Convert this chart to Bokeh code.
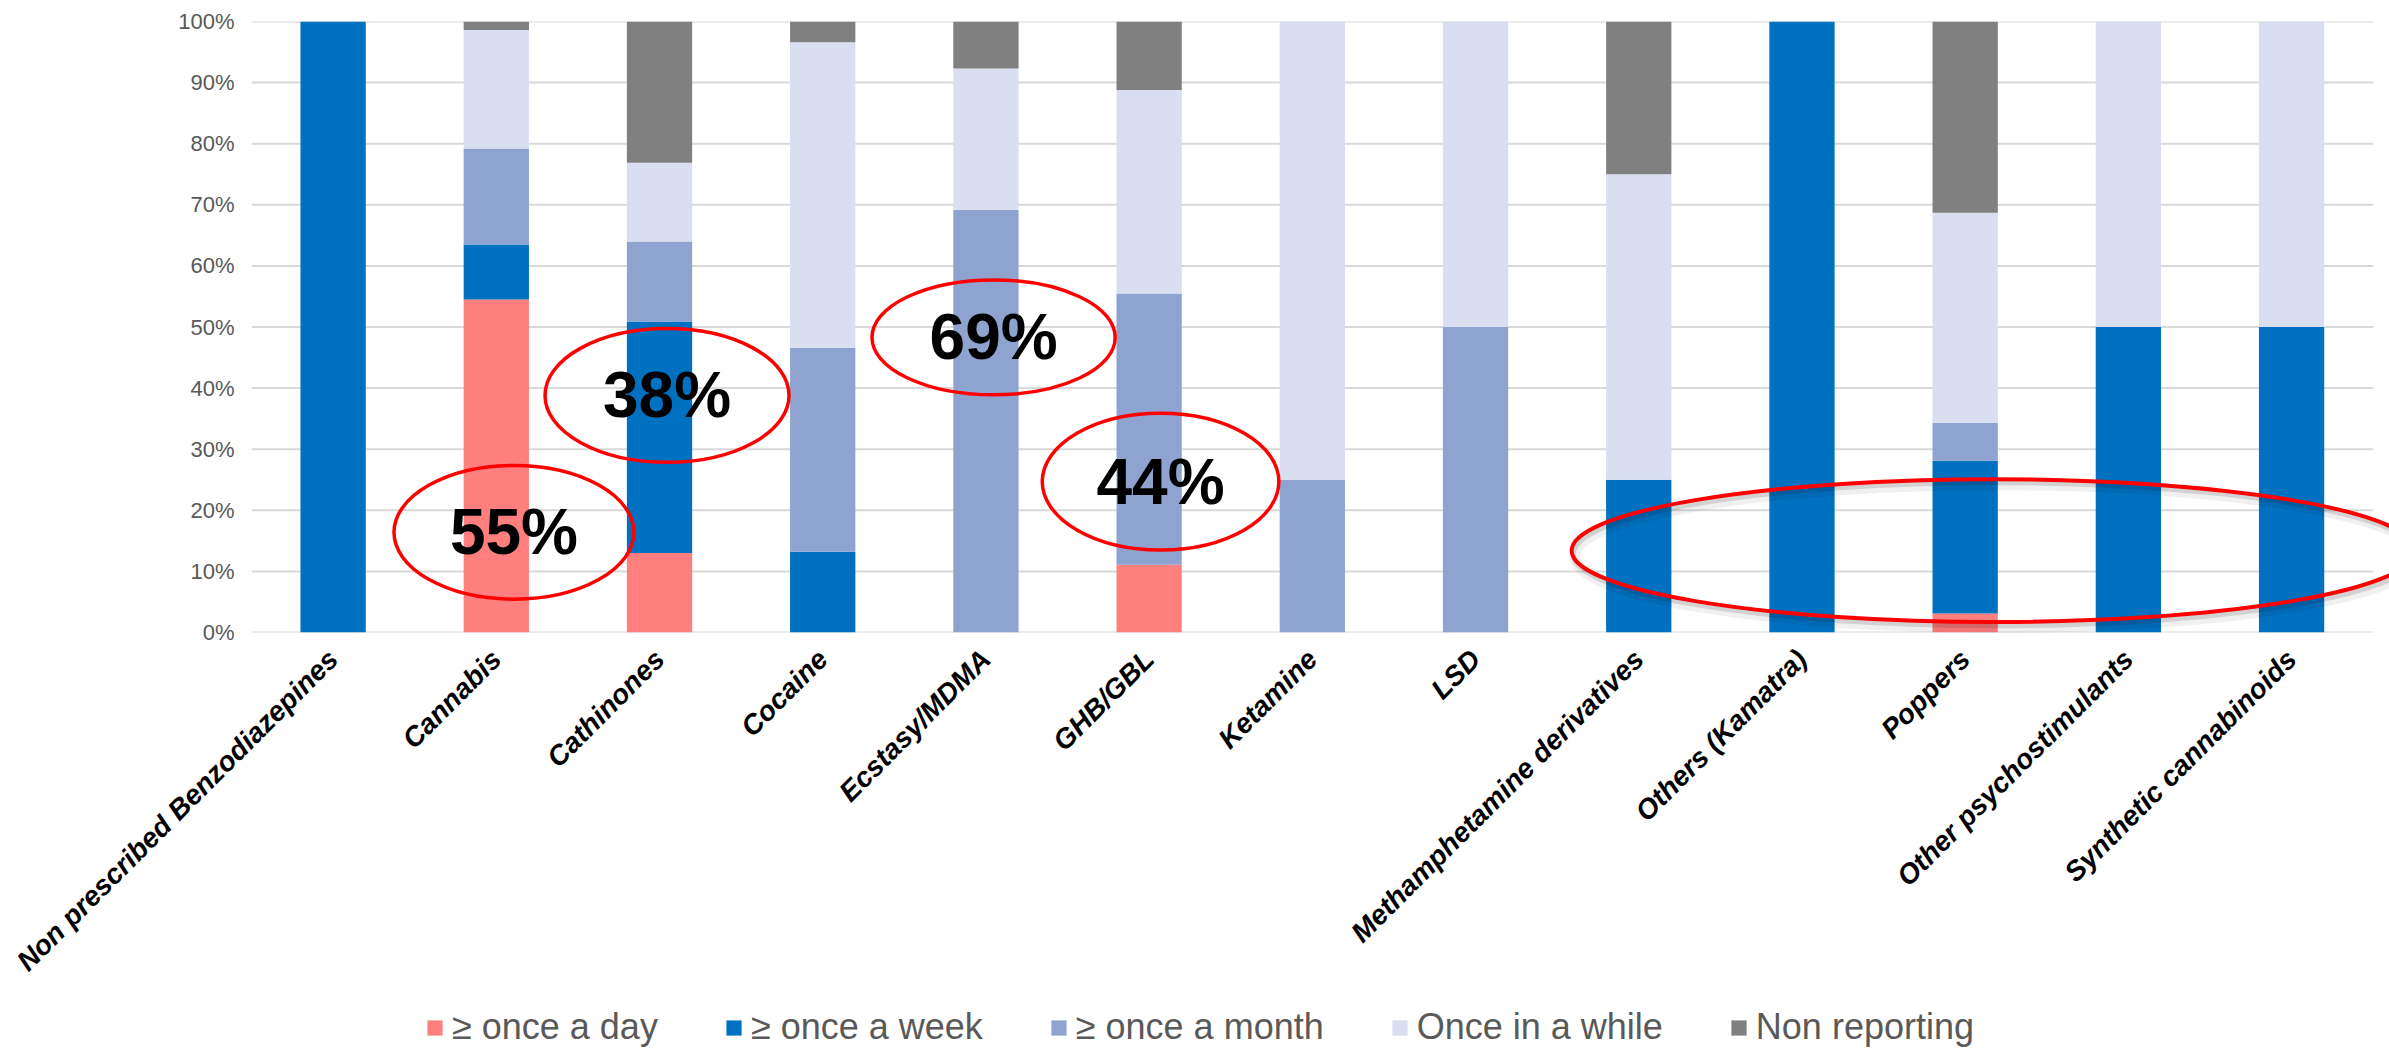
import math
from bokeh.plotting import figure
from bokeh.layouts import column
from bokeh.models import (ColumnDataSource, Range1d, FixedTicker, PrintfTickFormatter,
                          CustomJSTickFormatter, Legend, LegendItem)
from bokeh.core.properties import value
from bokeh.embed import file_html
from bokeh.resources import INLINE

# ---------------- data ----------------
categories = ["Non prescribed Benzodiazepines", "Cannabis", "Cathinones", "Cocaine",
              "Ecstasy/MDMA", "GHB/GBL", "Ketamine", "LSD", "Methamphetamine derivatives",
              "Others (Kamatra)", "Poppers", "Other psychostimulants", "Synthetic cannabinoids"]
once_a_day   = [0, 54.5, 13.0, 0, 0, 11.1, 0, 0, 0, 0, 3.1, 0, 0]
once_a_week  = [100, 9.0, 37.9, 13.2, 0, 0, 0, 0, 25, 100, 25.0, 50, 50]
once_a_month = [0, 15.7, 13.1, 33.4, 69.2, 44.4, 25, 50, 0, 0, 6.2, 0, 0]
once_while   = [0, 19.4, 12.9, 50.0, 23.1, 33.3, 75, 50, 50, 0, 34.4, 50, 50]
non_report   = [0, 1.4, 23.1, 3.4, 7.7, 11.2, 0, 0, 25, 0, 31.3, 0, 0]
series_labels = ["≥ once a day", "≥ once a week", "≥ once a month", "Once in a while", "Non reporting"]
y_ticks = [0, 10, 20, 30, 40, 50, 60, 70, 80, 90, 100]

# highlighted values (category, x offset, y centre, ellipse w, ellipse h, label)
ann_category = ["Cannabis", "Cathinones", "Ecstasy/MDMA", "GHB/GBL"]
ann_dx       = [0.108, 0.046, 0.047, 0.07]
ann_y        = [16.4, 38.8, 48.3, 24.7]
ann_w        = [1.47, 1.495, 1.49, 1.45]
ann_h        = [21.9, 21.9, 18.8, 22.4]
ann_text     = ["55%", "38%", "69%", "44%"]
# large ellipse around the weekly users on the right
big_category = "Poppers"
big_dx, big_y, big_w, big_h = 0.174, 13.4, 5.17, 23.4

colors = ["#FF7F7F", "#0070C0", "#8FA3D1", "#D9DFF0", "#808080"]
stack_keys = ["day", "week", "month", "while", "non"]

xs = [i + 0.5 for i in range(len(categories))]
source = ColumnDataSource(dict(x=xs, day=once_a_day, week=once_a_week, month=once_a_month,
                               **{"while": once_while}, non=non_report))

MAIN_H = 998
LEG_H = 50

p = figure(width=2389, height=MAIN_H, x_range=Range1d(0, 13.1), y_range=Range1d(0, 100),
           output_backend="svg", toolbar_location=None,
           min_border_left=251, min_border_right=0, min_border_top=21,
           min_border_bottom=MAIN_H - 632)
p.outline_line_color = None
p.background_fill_color = "white"
p.xgrid.visible = False
p.ygrid.visible = False

# gridlines limited to the category area
p.segment(x0=[0] * len(y_ticks), x1=[len(categories)] * len(y_ticks), y0=y_ticks, y1=y_ticks,
          line_color="#D9D9D9", line_width=2, level="underlay")

p.vbar_stack(stack_keys, x="x", width=0.4, color=colors, line_color=None, source=source)

# annotations
cx = [categories.index(c) + 0.5 + d for c, d in zip(ann_category, ann_dx)]
p.ellipse(x=cx, y=ann_y, width=ann_w, height=ann_h, fill_color=None,
          line_color="#FF0000", line_width=3.5)
p.text(x=cx, y=ann_y, text=ann_text, text_font=value("Liberation Sans"), text_font_style="bold",
       text_font_size="64px", text_color="black", text_align="center", text_baseline="middle")

bx = categories.index(big_category) + 0.5 + big_dx
p.ellipse(x=[bx + 0.02], y=[big_y - 0.9], width=[big_w], height=[big_h], fill_color=None,
          line_color="black", line_alpha=0.06, line_width=11)
p.ellipse(x=[bx + 0.01], y=[big_y - 0.6], width=[big_w], height=[big_h], fill_color=None,
          line_color="black", line_alpha=0.12, line_width=5)
p.ellipse(x=[bx], y=[big_y], width=[big_w], height=[big_h], fill_color=None,
          line_color="#FF0000", line_width=4)

# axes
xa = p.xaxis[0]
xa.ticker = FixedTicker(ticks=xs)
xa.formatter = CustomJSTickFormatter(args=dict(cats=categories),
                                     code="return cats[Math.floor(tick)];")
xa.major_label_orientation = math.pi / 4
xa.major_label_text_font = "Liberation Sans"
xa.major_label_text_font_style = "bold italic"
xa.major_label_text_font_size = "28px"
xa.major_label_text_color = "black"
xa.major_label_standoff = 22
xa.major_tick_out = 0
xa.axis_line_color = None
xa.major_tick_line_color = None
xa.minor_tick_line_color = None

ya = p.yaxis[0]
ya.ticker = FixedTicker(ticks=y_ticks)
ya.formatter = PrintfTickFormatter(format="%d%%")
ya.major_label_text_font = "Liberation Sans"
ya.major_label_text_font_size = "22px"
ya.major_label_text_color = "#595959"
ya.major_label_standoff = 17
ya.major_tick_out = 0
ya.axis_line_color = None
ya.major_tick_line_color = None
ya.minor_tick_line_color = None

# legend strip below the chart
lf = figure(width=2389, height=LEG_H, x_range=Range1d(0, 1), y_range=Range1d(0, 1),
            output_backend="svg", toolbar_location=None,
            x_axis_location=None, y_axis_location=None, min_border=0)
lf.outline_line_color = None
lf.xgrid.visible = False
lf.ygrid.visible = False
items = []
for lbl, c in zip(series_labels, colors):
    r = lf.vbar(x=[-5], top=[0], width=0.4, color=c, line_color=None)
    items.append(LegendItem(label=lbl, renderers=[r]))
lg = Legend(items=items, orientation="horizontal", location=(174, 0))
lg.label_text_font = "Liberation Sans"
lg.label_text_font_size = "36px"
lg.label_text_color = "#595959"
lg.glyph_width = 19
lg.glyph_height = 19
lg.label_standoff = 8
lg.spacing = 66
lg.padding = 0
lg.margin = 0
lg.border_line_color = None
lg.background_fill_alpha = 0
lf.add_layout(lg, "center")

layout = column(p, lf, spacing=0)
open("out.html", "w").write(file_html(layout, INLINE))
